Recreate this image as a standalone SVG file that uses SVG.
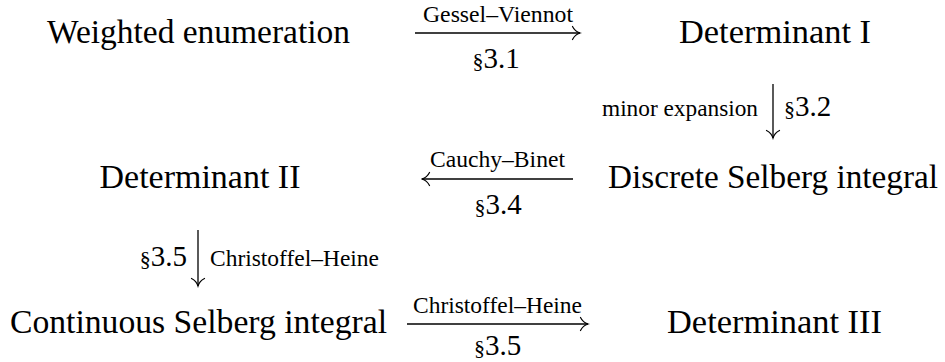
<svg xmlns="http://www.w3.org/2000/svg" width="945" height="362" viewBox="0 0 945 362">
<style>
  text { font-family: "Liberation Serif", "DejaVu Serif", "Noto Serif", "Times New Roman", serif; fill: #000; }
  .node { font-size: 33.5px; text-anchor: middle; }
  .lbl { font-size: 23.5px; }
  .sec { font-size: 29px; }
  .ss { font-size: 22px; }
  .edge { stroke: #000; stroke-width: 1.3; fill: none; marker-end: url(#ah); }
</style>
<defs>
  <marker id="ah" markerUnits="userSpaceOnUse" viewBox="0 0 12 16" markerWidth="12" markerHeight="16" refX="10.5" refY="8" orient="auto">
    <path d="M3,1.5 Q5.5,6.5 10.5,8 Q5.5,9.5 3,14.5" fill="none" stroke="#000" stroke-width="1.2" stroke-linecap="round"/>
  </marker>
</defs>
<rect width="945" height="362" fill="#fff"/>
<g id="n-weighted"><text class="node" x="198.5" y="43" textLength="303" lengthAdjust="spacingAndGlyphs">Weighted enumeration</text></g>
<g id="n-det1"><text class="node" x="775" y="43" textLength="192" lengthAdjust="spacingAndGlyphs">Determinant I</text></g>
<g id="n-det2"><text class="node" x="200" y="188" textLength="201" lengthAdjust="spacingAndGlyphs">Determinant II</text></g>
<g id="n-discrete"><text class="node" x="773" y="188" textLength="330" lengthAdjust="spacingAndGlyphs">Discrete Selberg integral</text></g>
<g id="n-continuous"><text class="node" x="198.5" y="333" textLength="377" lengthAdjust="spacingAndGlyphs">Continuous Selberg integral</text></g>
<g id="n-det3"><text class="node" x="774.5" y="333" textLength="215" lengthAdjust="spacingAndGlyphs">Determinant III</text></g>
<g id="connectors">
  <path class="edge" d="M415,33 H580"/>
  <text class="lbl" x="498" y="22" text-anchor="middle" textLength="150" lengthAdjust="spacingAndGlyphs">Gessel–Viennot</text>
  <text class="sec" x="496" y="68" text-anchor="middle"><tspan class="ss">§</tspan>3.1</text>

  <path class="edge" d="M773,84 V138"/>
  <text class="lbl" x="758" y="116" text-anchor="end" textLength="156" lengthAdjust="spacingAndGlyphs">minor expansion</text>
  <text class="sec" x="784" y="116"><tspan class="ss">§</tspan>3.2</text>

  <path class="edge" d="M573,179 H422"/>
  <text class="lbl" x="497.5" y="167" text-anchor="middle" textLength="135" lengthAdjust="spacingAndGlyphs">Cauchy–Binet</text>
  <text class="sec" x="498" y="214" text-anchor="middle"><tspan class="ss">§</tspan>3.4</text>

  <path class="edge" d="M198,230 V286"/>
  <text class="sec" x="187" y="266" text-anchor="end"><tspan class="ss">§</tspan>3.5</text>
  <text class="lbl" x="210" y="266" textLength="169" lengthAdjust="spacingAndGlyphs">Christoffel–Heine</text>

  <path class="edge" d="M407,324 H588"/>
  <text class="lbl" x="497.5" y="313" text-anchor="middle" textLength="169" lengthAdjust="spacingAndGlyphs">Christoffel–Heine</text>
  <text class="sec" x="497.5" y="355" text-anchor="middle"><tspan class="ss">§</tspan>3.5</text>
</g>
</svg>
